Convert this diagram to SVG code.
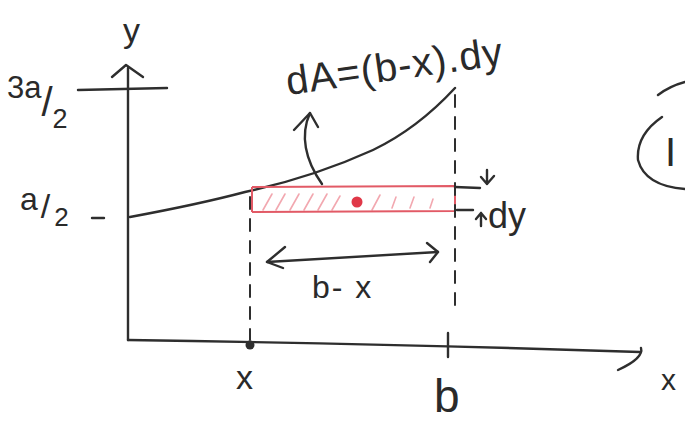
<svg xmlns="http://www.w3.org/2000/svg" width="685" height="428" viewBox="0 0 685 428">
<style>
.pen{fill:none;stroke:#2e2e2e;stroke-width:2.4;stroke-linecap:round;stroke-linejoin:round}
.dash{fill:none;stroke:#2e2e2e;stroke-width:2;stroke-linecap:round;stroke-dasharray:12 10}
.red{fill:none;stroke:#e25a66;stroke-width:2}
.hatch{fill:none;stroke:#f2a8b0;stroke-width:1.6;stroke-linecap:round}
.t{font-family:"Liberation Sans",Arial,sans-serif;fill:#2a2a2a}
</style>
<rect width="685" height="428" fill="#ffffff"/>
<g id="axes">
<path class="pen" d="M128,340 L128,68"/>
<path class="pen" d="M112,77 L126,65 L143,77"/>
<path class="pen" d="M128,340 Q400,344 640,352"/>
<path class="pen" d="M641,348 Q644,358 618,370"/>
<path class="pen" d="M78,90 L167,88"/>
<path class="pen" d="M92,218 L104,218"/>
<path class="pen" d="M448,333 L448,357"/>
<circle cx="250" cy="345" r="4.5" fill="#2e2e2e"/>
<text class="t" x="123" y="42" font-size="34">y</text>
<text class="t" x="236" y="389" font-size="34">x</text>
<text class="t" x="434" y="412" font-size="46">b</text>
<text class="t" x="661" y="390" font-size="30">x</text>
<text class="t" x="7" y="98" font-size="31">3a<tspan font-size="40" dy="18">/</tspan><tspan font-size="27" dy="12">2</tspan></text>
<text class="t" x="20" y="210" font-size="32">a<tspan font-size="34" dx="3" dy="8">/</tspan><tspan font-size="26" dx="4" dy="8">2</tspan></text>
</g>
<g id="curve">
<path class="pen" d="M130,217 Q200,204 245,192 C300,180 340,165 373,150 C400,137 430,115 455,88"/>
</g>
<g id="strip">
<path class="hatch" d="M263,210 L272,194 M276,210 L285,194 M290,210 L299,194 M304,210 L313,194 M318,210 L327,194 M332,210 L340,196 M372,210 L380,195 M392,208 L396,197 M410,208 L414,197 M430,208 L433,199"/>
<path class="red" d="M252,187 L455,186 M252,212 L455,211 M252,187 L252,212 M455,186 L455,211"/>
<circle cx="357" cy="202" r="5.5" fill="#e03848"/>
</g>
<g id="connectors">
<path class="dash" d="M455,95 L455,307"/>
<path class="dash" d="M250,197 L250,340" stroke-dasharray="7 12"/>
<path class="pen" d="M322,184 C305,160 300,135 310,113"/>
<path class="pen" d="M294,130 L310,113 L318,127"/>
<path class="pen" d="M267,262 L438,252"/>
<path class="pen" d="M285,247 L267,262 L283,268"/>
<path class="pen" d="M427,243 L438,252 L430,262"/>
<path class="pen" d="M455,187 L480,188"/>
<path class="pen" d="M487,170 L487,184 M481,177 L487,184 L494,176"/>
<path class="pen" d="M457,210 L473,210"/>
<path class="pen" d="M481,226 L481,213 M476,219 L481,213 L486,219"/>
</g>
<g id="labels">
<text class="t" x="288" y="95" font-size="40" letter-spacing="1" transform="rotate(-8 288 95)">dA=(b-x).dy</text>
<text class="t" x="312" y="298" font-size="32" letter-spacing="2">b- x</text>
<text class="t" x="488" y="228" font-size="36">dy</text>
</g>
<g id="circleI">
<path class="pen" d="M658,95 Q670,86 685,82"/>
<path class="pen" d="M662,117 Q636,135 638,160 Q645,186 685,189"/>
<text class="t" x="665" y="166" font-size="40" font-family="Liberation Serif">I</text>
</g>
</svg>
